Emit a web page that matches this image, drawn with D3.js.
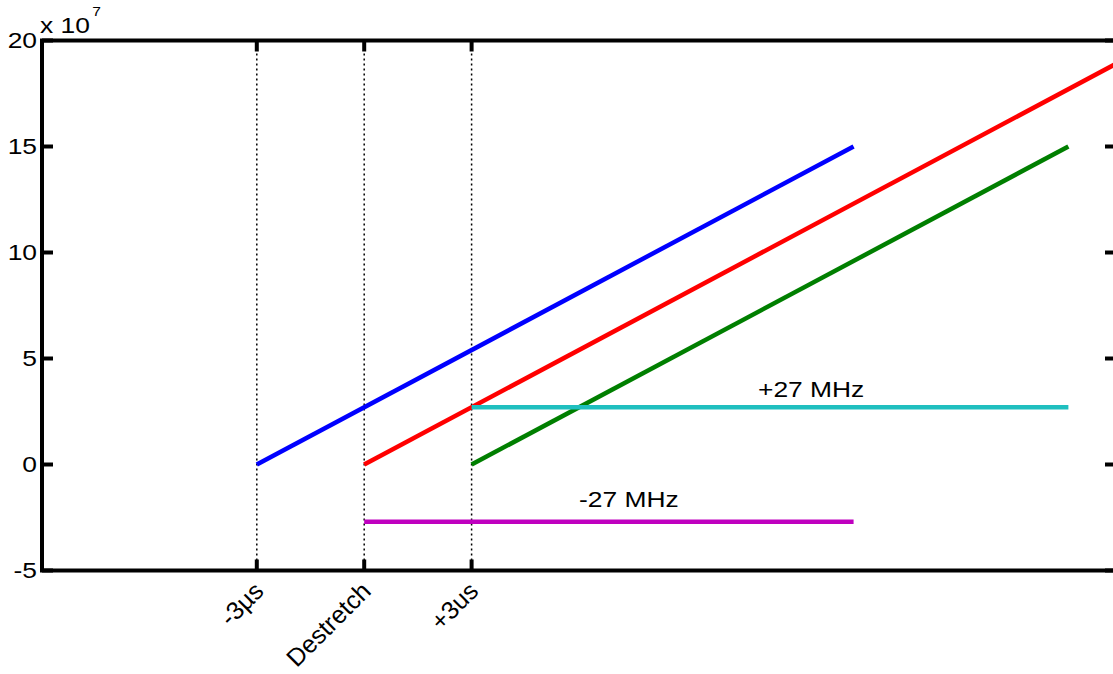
<!DOCTYPE html>
<html>
<head>
<meta charset="utf-8">
<script src="https://cdn.jsdelivr.net/npm/d3@7"></script>
<style>
  html, body { margin: 0; padding: 0; background: #ffffff; }
  svg { display: block; }
  text { font-family: "Liberation Sans", Arial, sans-serif; fill: #000; }
</style>
</head>
<body>
<script>
// Chirp timing diagram: frequency ramps (Hz) against time (µs) around the destretch point.

// Axis ticks
const xTickValues = [-3, 0, 3];
const xTickLabels = ["-3\u00b5s", "Destretch", "+3us"];
const yTickValues = [-5, 0, 5, 10, 15, 20];
const yTickLabels = ["-5", "0", "5", "10", "15", "20"];
const xDomain = [-9, 21];
const yDomain = [-5, 20];        // units of 1e7 Hz

// Frequency ramps (time in µs, frequency in 1e7 Hz), 9 MHz/µs
const rampNames  = ["early", "reference", "late"];
const rampColors = ["#0000ff", "#ff0000", "#007f00"];
const rampStartT = [-3, 0, 3];
const rampStartF = [0, 0, 0];
const rampEndT   = [13.67, 21.6, 19.67];
const rampEndF   = [15, 19.44, 15];

// Constant frequency offsets
const offsetLabels = ["+27 MHz", "-27 MHz"];
const offsetColors = ["#1fbfbf", "#bf00bf"];
const offsetStartT = [3, 0];
const offsetEndT   = [19.67, 13.67];
const offsetF      = [2.7, -2.7];
const offsetTextT  = [11, 6];
const offsetTextF  = [3.2, -2.0];

const W = 1113, H = 674;
const textStretch = 1.2;   // horizontal glyph widening used for all upright labels

const svg = d3.select("body").append("svg")
  .attr("width", W).attr("height", H);
svg.append("rect").attr("width", W).attr("height", H).attr("fill", "#fff");

const x = d3.scaleLinear().domain(xDomain).range([42, 1116]);
const y = d3.scaleLinear().domain(yDomain).range([570.5, 40.5]);

svg.append("defs").append("clipPath").attr("id", "plot-clip")
  .append("rect")
  .attr("x", x(xDomain[0])).attr("y", y(yDomain[1]))
  .attr("width", x(xDomain[1]) - x(xDomain[0]))
  .attr("height", y(yDomain[0]) - y(yDomain[1]));

// Dotted markers at the three reference times
svg.append("g").selectAll("line").data(xTickValues).join("line")
  .attr("x1", d => x(d)).attr("x2", d => x(d))
  .attr("y1", y(yDomain[0])).attr("y2", y(yDomain[1]))
  .attr("stroke", "#000").attr("stroke-width", 1.5)
  .attr("stroke-dasharray", "2,3");

const line = d3.line().x(d => x(d[0])).y(d => y(d[1]));
const plot = svg.append("g").attr("clip-path", "url(#plot-clip)");

// Ramps
plot.selectAll("path.ramp").data(rampNames).join("path")
  .attr("class", "ramp")
  .attr("d", (d, i) => line([[rampStartT[i], rampStartF[i]], [rampEndT[i], rampEndF[i]]]))
  .attr("fill", "none")
  .attr("stroke", (d, i) => rampColors[i])
  .attr("stroke-width", 4.5);

// Offsets
plot.selectAll("path.offset").data(offsetLabels).join("path")
  .attr("class", "offset")
  .attr("d", (d, i) => line([[offsetStartT[i], offsetF[i]], [offsetEndT[i], offsetF[i]]]))
  .attr("fill", "none")
  .attr("stroke", (d, i) => offsetColors[i])
  .attr("stroke-width", 4.5);

svg.append("g").selectAll("text").data(offsetLabels).join("text")
  .attr("transform", (d, i) => `translate(${x(offsetTextT[i])},${y(offsetTextF[i])}) scale(${textStretch},1)`)
  .attr("font-size", 22)
  .text(d => d);

// Axes box with inward ticks on all four sides
const tickLen = 11;
const axes = svg.append("g").attr("stroke", "#000").attr("stroke-width", 4);
axes.append("rect")
  .attr("x", x(xDomain[0])).attr("y", y(yDomain[1]))
  .attr("width", x(xDomain[1]) - x(xDomain[0]))
  .attr("height", y(yDomain[0]) - y(yDomain[1]))
  .attr("fill", "none");
axes.selectAll("line.yl").data(yTickValues).join("line").attr("class", "yl")
  .attr("x1", x(xDomain[0])).attr("x2", x(xDomain[0]) + tickLen)
  .attr("y1", d => y(d)).attr("y2", d => y(d));
axes.selectAll("line.yr").data(yTickValues).join("line").attr("class", "yr")
  .attr("x1", x(xDomain[1])).attr("x2", x(xDomain[1]) - tickLen)
  .attr("y1", d => y(d)).attr("y2", d => y(d));
axes.selectAll("line.xb").data(xTickValues).join("line").attr("class", "xb")
  .attr("x1", d => x(d)).attr("x2", d => x(d))
  .attr("y1", y(yDomain[0])).attr("y2", y(yDomain[0]) - tickLen);
axes.selectAll("line.xt").data(xTickValues).join("line").attr("class", "xt")
  .attr("x1", d => x(d)).attr("x2", d => x(d))
  .attr("y1", y(yDomain[1])).attr("y2", y(yDomain[1]) + tickLen);

// Y tick labels
svg.append("g").selectAll("text").data(yTickValues).join("text")
  .attr("transform", d => `translate(${x(xDomain[0]) - 5},${y(d)}) scale(${textStretch},1)`)
  .attr("dy", "0.35em")
  .attr("text-anchor", "end")
  .attr("font-size", 22)
  .text((d, i) => yTickLabels[i]);

// Exponent label
const expo = svg.append("text")
  .attr("transform", `translate(40,33) scale(${textStretch},1)`)
  .attr("font-size", 22);
expo.append("tspan").text("x 10");
expo.append("tspan").attr("dy", -17).attr("dx", 2).attr("font-size", 13).text("7");

// Rotated X tick labels
svg.append("g").selectAll("text").data(xTickValues).join("text")
  .attr("transform", d => `translate(${x(d) + 2},${y(yDomain[0]) + 16}) rotate(-45)`)
  .attr("text-anchor", "end")
  .attr("dy", "0.35em")
  .attr("font-size", 25)
  .text((d, i) => xTickLabels[i]);
</script>
</body>
</html>
